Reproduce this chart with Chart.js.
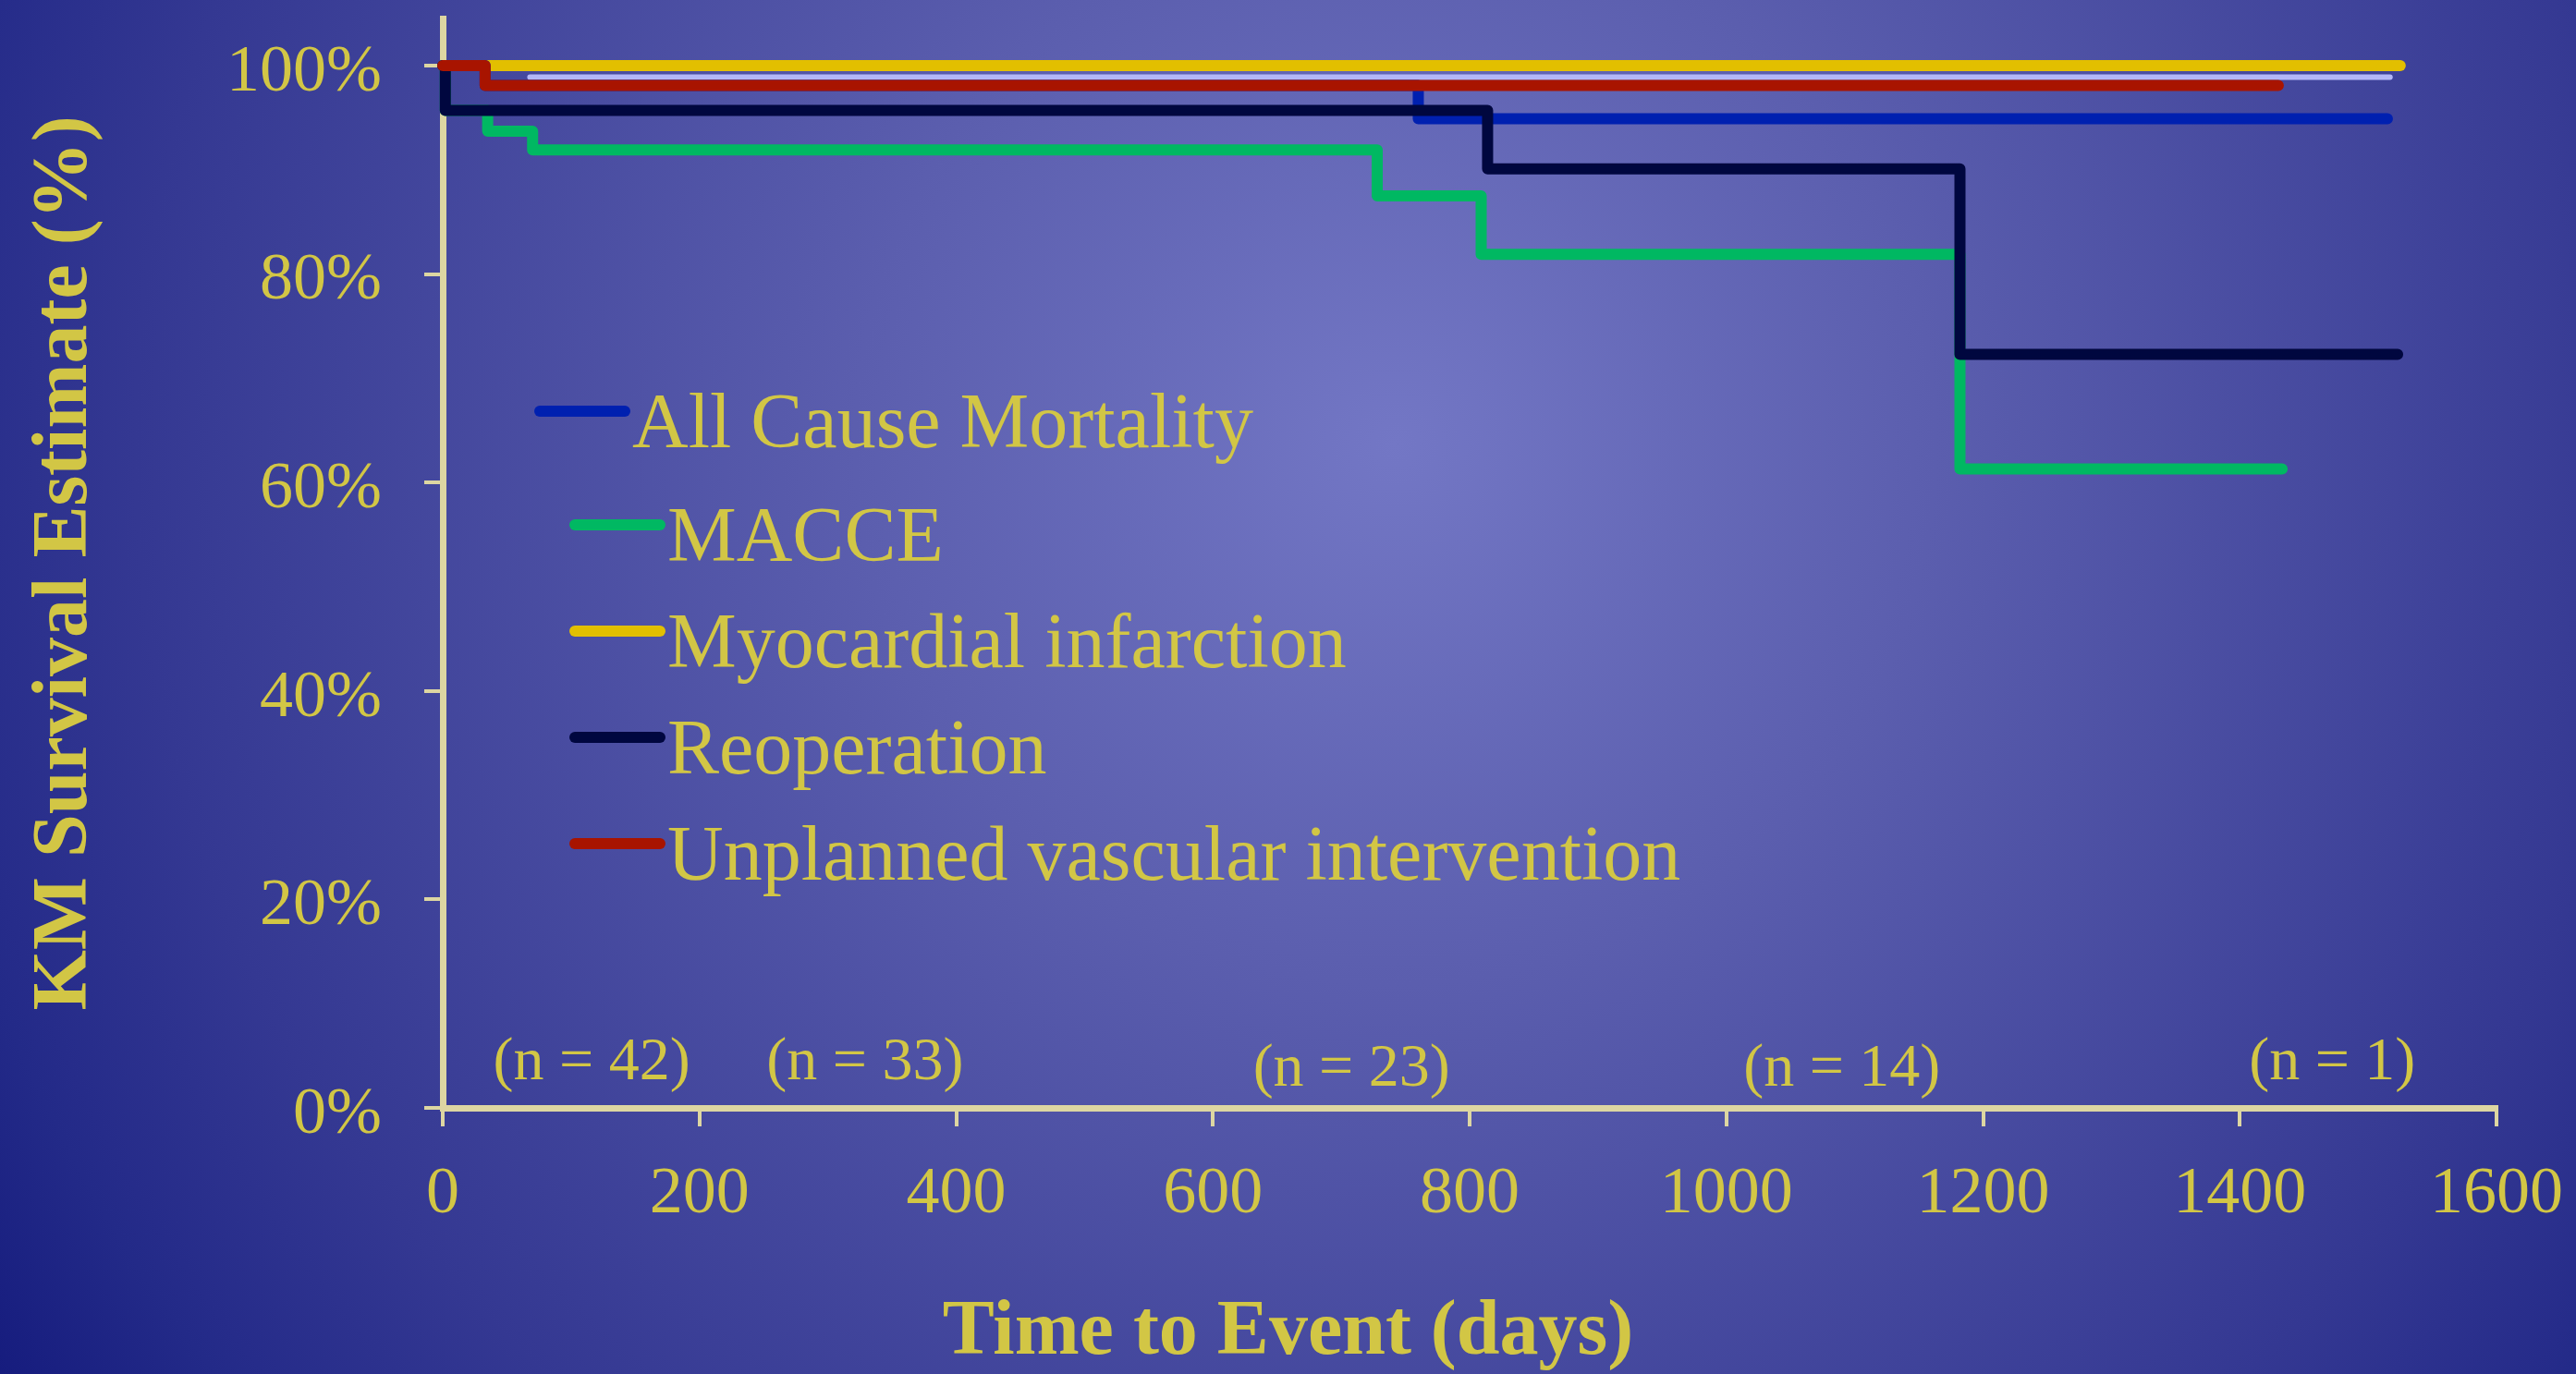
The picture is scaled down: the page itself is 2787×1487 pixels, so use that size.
<!DOCTYPE html>
<html>
<head>
<meta charset="utf-8">
<script src="https://cdn.jsdelivr.net/npm/chart.js@4.4.1/dist/chart.umd.min.js"></script>
<style>
  html, body { margin: 0; padding: 0; width: 2787px; height: 1487px; overflow: hidden; }
  body {
    background: radial-gradient(circle at 1510px 480px,
      #7377C5 0px, #5B5EAE 585px, #343892 1364px, #262C8A 1584px, #232A88 1626px, #161C7E 1815px);
  }
  #wrap { position: relative; width: 2787px; height: 1487px; }
</style>
</head>
<body>
<div id="wrap"><canvas id="c"></canvas></div>
<script>
// ---------------- data ----------------
const seriesNames = ['All Cause Mortality', 'MACCE', 'Myocardial infarction', 'Reoperation', 'Unplanned vascular intervention'];

const mortalityDays = [0, 33, 760, 1515];
const mortalityPct  = [100, 98.1, 94.9, 94.9];

const macceDays = [0, 2, 35, 70, 728, 809, 1182, 1433];
const maccePct  = [100, 95.7, 93.7, 91.9, 87.5, 81.9, 61.3, 61.3];

const miDays = [0, 1525];
const miPct  = [100, 100];

const reopDays = [0, 2, 814, 1182, 1523];
const reopPct  = [100, 95.7, 90.1, 72.3, 72.3];

const vascDays = [0, 33, 1430];
const vascPct  = [100, 98.1, 98.1];

// unlabelled light line (not in legend)
const extraDays = [68, 1517];
const extraPct  = [98.9, 98.9];

const xTickValues = [0, 200, 400, 600, 800, 1000, 1200, 1400, 1600];
const yTickValues = [0, 20, 40, 60, 80, 100];

const nAtRiskText = ['(n = 42)', '(n = 33)', '(n = 23)', '(n = 14)', '(n = 1)'];
const nAtRiskDay  = [116, 329, 708, 1090, 1472];
const nAtRiskPct  = [4.3, 4.3, 3.7, 3.7, 4.3];

// ---------------- styles ----------------
const TEXT = '#D2C645';
const AXIS = '#DDD6A2';
const FAMILY = '"Liberation Serif", "Times New Roman", Times, serif';
const COLORS = ['#0020B0', '#00B862', '#E2BF00', '#00073F', '#A81400'];
const EXTRA_COLOR = '#B3B7F8';

const toPts = (xs, ys) => xs.map((x, i) => ({ x: x, y: ys[i] }));

function kmSet(label, xs, ys, color, order, width) {
  return {
    label: label,
    data: toPts(xs, ys),
    borderColor: color,
    backgroundColor: color,
    borderWidth: width,
    pointRadius: 0,
    pointHoverRadius: 0,
    stepped: 'before',
    borderCapStyle: 'round',
    borderJoinStyle: 'round',
    fill: false,
    clip: false,
    order: order
  };
}

const datasets = [
  kmSet(seriesNames[0], mortalityDays, mortalityPct, COLORS[0], 2, 12),
  kmSet(seriesNames[1], macceDays, maccePct, COLORS[1], 3, 12),
  kmSet(seriesNames[2], miDays, miPct, COLORS[2], 4, 12),
  kmSet(seriesNames[3], reopDays, reopPct, COLORS[3], 1, 12),
  kmSet(seriesNames[4], vascDays, vascPct, COLORS[4], 0, 12),
  kmSet('', extraDays, extraPct, EXTRA_COLOR, 5, 6)
];

// ---------------- plugins ----------------
const atRiskPlugin = {
  id: 'atRisk',
  afterDatasetsDraw(chart) {
    const ctx = chart.ctx, xs = chart.scales.x, ys = chart.scales.y;
    ctx.save();
    ctx.font = '66px ' + FAMILY;
    ctx.fillStyle = TEXT;
    ctx.textAlign = 'center';
    ctx.textBaseline = 'middle';
    nAtRiskText.forEach((t, i) => {
      ctx.fillText(t, xs.getPixelForValue(nAtRiskDay[i]), ys.getPixelForValue(nAtRiskPct[i]));
    });
    ctx.restore();
  }
};

const kmLegendPlugin = {
  id: 'kmLegend',
  afterDraw(chart, args, opts) {
    const ctx = chart.ctx;
    ctx.save();
    ctx.font = opts.fontSize + 'px ' + FAMILY;
    ctx.fillStyle = TEXT;
    ctx.textAlign = 'left';
    ctx.textBaseline = 'alphabetic';
    ctx.lineCap = 'round';
    for (let i = 0; i < seriesNames.length; i++) {
      const ds = chart.data.datasets[i];
      const x0 = opts.x[i], y = opts.y[i];
      ctx.strokeStyle = ds.borderColor;
      ctx.lineWidth = ds.borderWidth;
      ctx.beginPath();
      ctx.moveTo(x0 + 6, y);
      ctx.lineTo(x0 + opts.len - 6, y);
      ctx.stroke();
      ctx.fillText(ds.label, x0 + opts.len + 2, y + opts.baselineShift);
    }
    ctx.restore();
  }
};

const zeroPad = s => { s.paddingLeft = 0; s.paddingRight = 0; s.paddingTop = 0; s.paddingBottom = 0; };

new Chart(document.getElementById('c'), {
  type: 'line',
  data: { datasets: datasets },
  plugins: [atRiskPlugin, kmLegendPlugin],
  options: {
    responsive: true,
    maintainAspectRatio: false,
    devicePixelRatio: 1,
    animation: false,
    events: [],
    layout: { padding: { top: 20, right: 0, left: 0, bottom: 0 } },
    scales: {
      x: {
        type: 'linear',
        min: 0,
        max: 1600,
        afterBuildTicks: s => { s.ticks = xTickValues.map(v => ({ value: v })); },
        afterFit: s => { s.height = 202; zeroPad(s); s.paddingRight = 86; },
        grid: { display: true, drawOnChartArea: false, drawTicks: true, tickLength: 20, color: AXIS, lineWidth: 4 },
        border: { display: true, color: AXIS, width: 7 },
        ticks: {
          color: TEXT,
          font: { family: FAMILY, size: 72, lineHeight: 1.2 },
          padding: 31,
          maxRotation: 0,
          autoSkip: false,
          callback: v => String(v)
        }
      },
      y: {
        type: 'linear',
        min: 0,
        max: 104.52,
        afterBuildTicks: s => { s.ticks = yTickValues.map(v => ({ value: v })); },
        afterFit: s => { s.width = 479; zeroPad(s); },
        grid: { display: true, drawOnChartArea: false, drawTicks: true, tickLength: 20, color: AXIS, lineWidth: 4 },
        border: { display: true, color: AXIS, width: 7 },
        ticks: {
          color: TEXT,
          font: { family: FAMILY, size: 72, lineHeight: 1.2 },
          padding: 46,
          labelOffset: 8,
          autoSkip: false,
          callback: v => v + '%'
        },
        title: {
          display: true,
          text: 'KM Survival Estimate (%)',
          color: TEXT,
          font: { family: FAMILY, size: 84, weight: 'bold', lineHeight: 1.2 },
          padding: { top: 21, bottom: 0 }
        }
      }
    },
    plugins: {
      legend: { display: false },
      tooltip: { enabled: false },
      title: {
        display: true,
        position: 'bottom',
        text: 'Time to Event (days)',
        color: TEXT,
        font: { family: FAMILY, size: 84, weight: 'bold', lineHeight: 1 },
        padding: { top: 0, bottom: 2 }
      },
      kmLegend: {
        x: [578, 616, 616, 616, 616],
        y: [445, 568, 683, 798, 913],
        len: 104,
        fontSize: 84,
        baselineShift: 38.5
      }
    }
  }
});
</script>
</body>
</html>
